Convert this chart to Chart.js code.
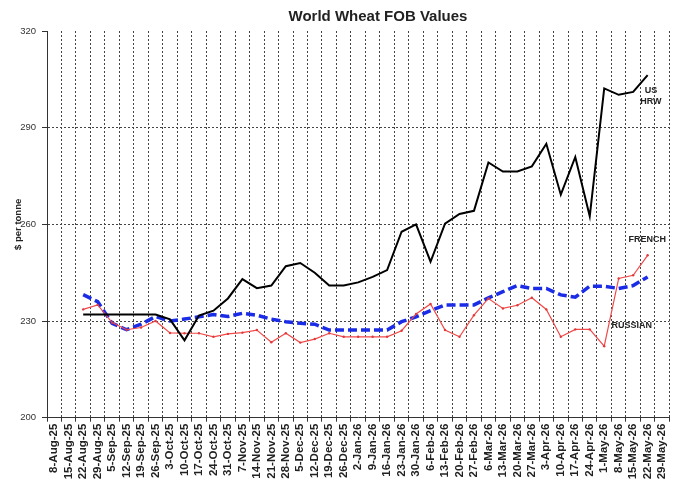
<!DOCTYPE html>
<html><head><meta charset="utf-8">
<script src="https://cdn.jsdelivr.net/npm/chart.js@4.4.1/dist/chart.umd.min.js"></script>
<style>html,body{margin:0;padding:0;background:#fff;}#wrap{width:678px;height:485px;position:relative;}</style>
</head><body><div id="wrap"><canvas id="c" width="678" height="485"></canvas></div>
<script>
const categories = ['8-Aug-25','15-Aug-25','22-Aug-25','29-Aug-25','5-Sep-25','12-Sep-25','19-Sep-25','26-Sep-25','3-Oct-25','10-Oct-25','17-Oct-25','24-Oct-25','31-Oct-25','7-Nov-25','14-Nov-25','21-Nov-25','28-Nov-25','5-Dec-25','12-Dec-25','19-Dec-25','26-Dec-25','2-Jan-26','9-Jan-26','16-Jan-26','23-Jan-26','30-Jan-26','6-Feb-26','13-Feb-26','20-Feb-26','27-Feb-26','6-Mar-26','13-Mar-26','20-Mar-26','27-Mar-26','3-Apr-26','10-Apr-26','17-Apr-26','24-Apr-26','1-May-26','8-May-26','15-May-26','22-May-26','29-May-26'];
const usHrw = [null,null,232,232,232,232,232,232,230.5,224,231.7,233.2,237,243,240.2,241,247,248,245,241,241,242,243.7,245.8,257.7,260,248.4,260.2,263.2,264.2,279.2,276.4,276.4,278,285,269.2,280.9,262.5,302.2,300.2,301.1,306.3,null];
const french = [null,null,238.2,236,229.3,227.3,229,231.4,230,230.6,231.3,232,231.4,232.4,231.8,230.6,229.8,229.3,229,227.2,227.2,227.2,227.2,227.2,229.8,231.3,233.2,235,235,235,237.2,239.1,241,240.1,240.1,238.1,237.4,240.8,240.8,240.1,241,243.7,null];
const russian = [null,null,233.6,235,229.5,227.3,228,230,226.3,226.2,226.2,225.1,226,226.4,227.2,223.4,226.2,223.3,224.4,226.2,225.1,225.1,225.1,225.1,227,232.2,235.3,227.2,225.1,231.8,237,233.9,234.9,237.2,233.6,225.1,227.4,227.4,222.2,243.2,244.2,250.4,null];
const yTicks = [200,230,260,290,320];
const seriesTags = [
  {text:'US', idx:41.24, value:301.5},
  {text:'HRW', idx:41.22, value:298.1},
  {text:'FRENCH', idx:40.97, value:255.3},
  {text:'RUSSIAN', idx:39.9, value:228.6}
];
const chartTitle = 'World Wheat FOB Values';
const yAxisTitle = '$ per tonne';

const FONT = "'Liberation Sans', Arial, sans-serif";

const textPlugin = {
  id: 'textPlugin',
  afterDatasetsDraw(chart) {
    const {ctx, scales:{x, y}} = chart;
    ctx.save();
    ctx.fillStyle = '#222';
    ctx.font = 'bold 9px ' + FONT;
    ctx.textAlign = 'center';
    ctx.textBaseline = 'middle';
    seriesTags.forEach(t => {
      ctx.fillText(t.text, x.getPixelForValue(t.idx), y.getPixelForValue(t.value));
    });
    ctx.font = 'bold 15px ' + FONT;
    ctx.fillText(chartTitle, 378, 17);
    ctx.restore();
  }
};

new Chart(document.getElementById('c'), {
  type: 'line',
  data: {
    labels: categories,
    datasets: [
      {label:'US HRW', data: usHrw, borderColor:'#000', borderWidth:2, pointRadius:0, tension:0, fill:false},
      {label:'Russian', data: russian, borderColor:'#f24a4a', backgroundColor:'#e03a3a', borderWidth:1.2, pointRadius:1.2, pointBorderWidth:0, pointHoverRadius:0, tension:0, fill:false},
      {label:'French', data: french, borderColor:'#1a2ce6', borderWidth:3.5, borderDash:[9,4], pointRadius:0, tension:0, fill:false}
    ]
  },
  options: {
    responsive:false,
    animation:false,
    devicePixelRatio:1,
    layout:{padding:{left:0,right:7.5,top:31,bottom:0}},
    plugins:{legend:{display:false}, title:{display:false}, tooltip:{enabled:false}},
    scales:{
      x:{
        type:'category',
        offset:true,
        grid:{offset:true, color:'#444', lineWidth:1, drawTicks:true, tickLength:4, tickColor:'#333', tickWidth:1, tickBorderDash:[]},
        border:{display:true, color:'#333', width:1, dash:[2,2]},
        ticks:{autoSkip:false, minRotation:90, maxRotation:90, padding:2, color:'#222', font:{family:FONT, size:11.5, weight:'bold'}},
        afterFit(s){ s.height = 67.3; }
      },
      y:{
        min:200, max:320,
        afterBuildTicks(s){ s.ticks = yTicks.map(v => ({value:v})); },
        grid:{color: c => (c.tick && c.tick.value === 320) ? 'rgba(0,0,0,0)' : '#444', lineWidth:1, drawTicks:true, tickLength:5, tickColor:'#333', tickWidth:1, tickBorderDash:[]},
        border:{display:true, color:'#333', width:1, dash:[2,2]},
        ticks:{padding:6, color:'#333', font:{family:FONT, size:9.5}},
        title:{display:true, text:yAxisTitle, color:'#222', font:{family:FONT, size:9.5, weight:'bold'}, padding:{top:12.3, bottom:0}},
        afterFit(s){ s.width = 47; }
      }
    }
  },
  plugins:[textPlugin]
});
</script>
</body></html>
